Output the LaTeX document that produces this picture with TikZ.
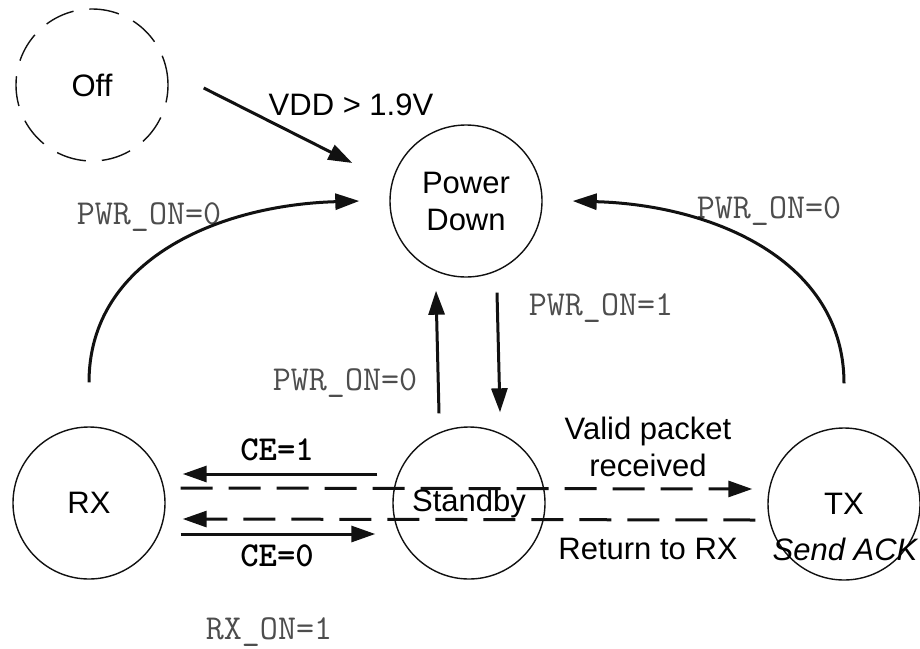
\documentclass[tikz,border=0pt]{standalone}
\usepackage{fontspec}
\setmainfont{Liberation Sans}
\usetikzlibrary{arrows.meta, positioning}
\definecolor{rfline}{HTML}{111111}
\definecolor{rfgray}{HTML}{4D4D4D}
\newcommand{\diagfont}{\fontsize{31}{37}\selectfont}
\newcommand{\codefont}{\fontsize{35}{40}\selectfont\ttfamily}

\begin{document}
\begin{tikzpicture}[x=1pt, y=-1pt,
    state/.style={circle, draw=rfline, line width=1.4pt, minimum size=152pt,
                  inner sep=0pt, align=center, font=\diagfont},
    cond/.style={font=\codefont, color=rfgray, inner sep=0pt},
    ctrl/.style={font=\codefont\bfseries, inner sep=0pt},
    note/.style={font=\diagfont, align=center, inner sep=0pt},
    arrow/.style={-{Triangle[length=24pt, width=16pt]}, line width=3pt, color=rfline},
    dasharrow/.style={arrow, dash pattern=on 32pt off 16pt}
]
\useasboundingbox (0,0) rectangle (920,648);

\node[state, dash pattern=on 30pt off 16pt] (off) at (92,85)  {Off};
\node[state] (pd) at (466,201) {Power\\Down};
\node[state] (rx) at (89,503)  {RX};
\node[state] (sb) at (469,503) {Standby};
\node[state] (tx) at (844,504) {TX};
\node[note, font=\diagfont\itshape] (ack) at (845,549) {Send ACK};

\node[note] (vdd)   at (351,105) {VDD > 1.9V};
\node[cond] (pwr0l) at (149,217) {PWR\_ON=0};
\node[cond] (pwr0r) at (769,211) {PWR\_ON=0};
\node[cond] (pwr0m) at (345,383) {PWR\_ON=0};
\node[cond] (pwr1)  at (601,308) {PWR\_ON=1};
\node[cond] (rxon)  at (269,632) {RX\_ON=1};
\node[ctrl] (ce1)   at (277,450) {CE=1};
\node[ctrl] (ce0)   at (277,556) {CE=0};
\node[note] (valid) at (648,447) {Valid packet\\received};
\node[note] (ret)   at (648,549) {Return to RX};

\draw[arrow] ([shift={(35,3)}]off.east) -- ([shift={(-37,-38)}]pd.west);
\draw[arrow] ([yshift=44pt]rx.north) .. controls +(0,-123) and +(-140,4) .. ([xshift=-30pt]pd.west);
\draw[arrow] ([yshift=44pt]tx.north) .. controls +(0,-123) and +(140,4) .. ([xshift=30pt]pd.east);
\draw[arrow] ([shift={(-30,-13)}]sb.north) -- ([shift={(-30,13)}]pd.south);
\draw[arrow] ([shift={(31,15)}]pd.south) -- ([shift={(31,-14)}]sb.north);
\draw[arrow] ([shift={(-15,-29)}]sb.west) -- ([shift={(17,-29)}]rx.east);
\draw[dasharrow] ([shift={(15,-15)}]rx.east) -- ([shift={(-15,-15)}]tx.west);
\draw[dasharrow] ([shift={(-12,16)}]tx.west) -- ([shift={(17,16)}]rx.east);
\draw[arrow] ([shift={(15,31)}]rx.east) -- ([shift={(-17,31)}]sb.west);
\end{tikzpicture}
\end{document}
